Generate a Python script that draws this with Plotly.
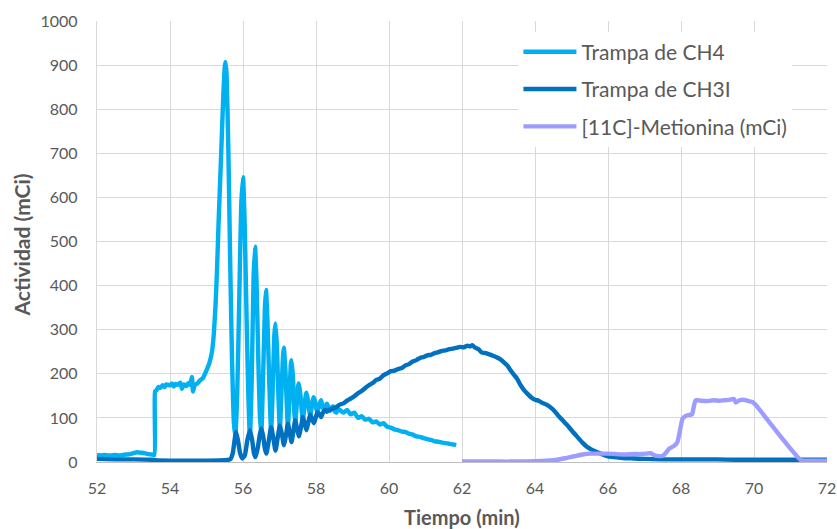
import plotly.graph_objects as go

# ---- data ----
ch4_t = [52.0, 52.1, 52.2, 52.3, 52.4, 52.5, 52.6, 52.7, 52.8, 52.9, 53.0, 53.1, 53.2, 53.3, 53.4, 53.5, 53.57,
         53.59, 53.63, 53.68, 53.73, 53.8, 53.85, 53.9, 54.0, 54.05, 54.1, 54.15, 54.2, 54.28, 54.33, 54.38, 54.45,
         54.5, 54.55, 54.6, 54.63, 54.68, 54.75, 54.82, 54.9, 55.0, 55.08, 55.15, 55.2, 55.25, 55.29, 55.33, 55.38,
         55.42, 55.46, 55.5, 55.52, 55.55, 55.6, 55.65, 55.7, 55.75, 55.79,
         55.84, 55.9, 55.95, 56.0, 56.04, 56.09, 56.14, 56.19,
         56.24, 56.29, 56.33, 56.37, 56.42, 56.46, 56.5,
         56.55, 56.6, 56.63, 56.67, 56.72, 56.77,
         56.82, 56.86, 56.89, 56.93, 56.97, 57.01,
         57.06, 57.1, 57.12, 57.16, 57.2, 57.23,
         57.28, 57.31, 57.33, 57.37, 57.4, 57.43,
         57.48, 57.51, 57.53, 57.57, 57.61, 57.64,
         57.69, 57.72, 57.74, 57.78, 57.81, 57.84,
         57.89, 57.92, 57.94, 57.98, 58.01, 58.04,
         58.09, 58.14, 58.18, 58.22, 58.26, 58.3, 58.35, 58.39, 58.43, 58.47, 58.52, 58.56, 58.6, 58.65,
         58.75, 58.85, 58.95, 59.05, 59.15, 59.25, 59.35, 59.45, 59.55, 59.65, 59.75, 59.85, 59.95,
         60.05, 60.15, 60.25, 60.35, 60.45, 60.55, 60.65, 60.75, 60.85, 60.95, 61.05, 61.15, 61.25,
         61.35, 61.45, 61.55, 61.65, 61.75, 61.84]
ch4_v = [16, 15, 16, 15, 15, 16, 15, 16, 17, 18, 20, 22, 21, 20, 18, 17, 16,
         160, 163, 170, 168, 174, 170, 176, 174, 178, 171, 177, 175, 180, 166, 176, 172,
         179, 175, 193, 160, 175, 178, 185, 190, 208, 225, 250, 290, 360, 440, 540, 650,
         740, 830, 895, 907, 880, 700, 450, 230, 90, 58,
         150, 380, 580, 646, 560, 360, 170, 55,
         190, 420, 488, 410, 230, 110, 60,
         190, 350, 390, 320, 180, 66,
         180, 290, 314, 260, 150, 72,
         170, 245, 259, 210, 130, 78,
         160, 222, 231, 190, 120, 86,
         140, 172, 178, 155, 115, 95,
         130, 152, 157, 140, 118, 104,
         128, 143, 147, 135, 120, 112,
         130, 140, 125, 118, 128, 132, 122, 116, 124, 126, 114, 112, 120, 118,
         112, 118, 108, 112, 100, 104, 96, 98, 90, 92, 85, 88, 80,
         78, 74, 72, 69, 68, 64, 62, 58, 57, 54, 52, 50, 47,
         46, 44, 43, 41, 40, 38]

ch3i_t = [52.0, 52.5, 53.0, 53.5, 53.6, 54.0, 54.5, 55.0, 55.5, 55.65, 55.72, 55.77, 55.81, 55.86, 55.92, 55.98,
          56.05, 56.12, 56.19, 56.25, 56.3, 56.34, 56.4, 56.46, 56.5, 56.55, 56.6, 56.64, 56.7, 56.77, 56.83,
          56.89, 56.95, 57.01, 57.07, 57.12, 57.18, 57.23, 57.28, 57.33, 57.38, 57.43, 57.48, 57.53, 57.59,
          57.64, 57.69, 57.74, 57.79, 57.84, 57.89, 57.94, 57.99, 58.04, 58.1, 58.14, 58.19, 58.25, 58.3,
          58.36, 58.45, 58.55, 58.65, 58.75, 58.85, 58.95,
          59.05, 59.15, 59.25, 59.35, 59.45, 59.55, 59.65, 59.75, 59.85, 59.95, 60.05, 60.15, 60.25, 60.35,
          60.45, 60.55, 60.65, 60.75, 60.85, 60.95, 61.05, 61.15, 61.25, 61.35, 61.45, 61.55, 61.65, 61.75,
          61.85, 61.95, 62.05, 62.15, 62.22, 62.28, 62.35, 62.45, 62.55, 62.65, 62.75, 62.85, 62.96, 63.05,
          63.15, 63.24, 63.33, 63.42, 63.51, 63.6, 63.7, 63.79, 63.9, 64.0, 64.1, 64.2, 64.34, 64.45, 64.55,
          64.65, 64.75, 64.89, 65.0, 65.16, 65.3, 65.43, 65.55, 65.71, 65.85, 66.0, 66.17, 66.4, 66.7, 67.0,
          67.5, 68.0, 68.5, 69.0, 69.5, 70.0, 70.5, 71.0, 71.5, 72.0]
ch3i_v = [7, 6, 6, 5, 4, 3, 3, 3, 4, 6, 20, 50, 68, 50, 20, 8,
          15, 50, 72, 50, 20, 11, 30, 62, 76, 60, 30, 19, 45, 79, 55,
          26, 55, 83, 62, 38, 62, 87, 66, 45, 70, 95, 76, 58, 80,
          102, 88, 72, 90, 108, 98, 88, 100, 113, 108, 102, 112, 118, 114,
          118, 121, 124, 130, 133, 139, 144,
          149, 156, 161, 168, 174, 179, 186, 189, 197, 201, 206, 207, 211, 213,
          219, 222, 228, 231, 236, 238, 242, 243, 247, 249, 252, 253, 256, 257,
          259, 261, 260, 264, 262, 265, 260, 256, 248, 247, 244, 241, 237, 233,
          226, 219, 208, 198, 189, 175, 163, 155, 146, 141, 139, 134, 129, 122, 114,
          104, 95, 83, 72, 57, 44, 34, 28, 22, 17, 13, 11, 9, 8, 7,
          6, 6, 6, 6, 5, 5, 5, 5, 5, 5]

met_t = [62.0, 62.5, 63.0, 63.5, 64.0, 64.3, 64.61, 64.85, 65.07, 65.3, 65.53, 65.75, 65.99, 66.2, 66.45, 66.7,
         66.9, 67.05, 67.17, 67.25, 67.35, 67.5, 67.6, 67.67, 67.8, 67.9, 67.98, 68.04, 68.12, 68.18, 68.3, 68.35,
         68.4, 68.55, 68.72, 68.9, 69.05, 69.18, 69.3, 69.45, 69.5, 69.6, 69.73, 69.85, 69.96, 70.05, 71.29,
         71.5, 72.0]
met_v = [1, 1, 1, 1, 2, 3, 5, 9, 13, 17, 19, 19, 19, 18, 17, 18,
         18, 19, 20, 16, 14, 14, 22, 30, 36, 45, 75, 98, 104, 106, 108, 125,
         140, 139, 138, 140, 139, 140, 141, 143, 135, 140, 141, 138, 136, 129, 4,
         3, 3]

series_names = ["Trampa de CH4", "Trampa de CH3I", "[11C]-Metionina (mCi)"]
series_colors = ["#00B0F0", "#0070C0", "#9D9DFF"]
x_ticks = [52, 54, 56, 58, 60, 62, 64, 66, 68, 70, 72]
y_ticks = [0, 100, 200, 300, 400, 500, 600, 700, 800, 900, 1000]
x_title = "Tiempo (min)"
y_title = "Actividad (mCi)"

FONT = "Lato"
GREY = "#595959"

fig = go.Figure()
for name, tt, vv, col in zip(series_names, [ch4_t, ch3i_t, met_t], [ch4_v, ch3i_v, met_v], series_colors):
    fig.add_trace(go.Scatter(x=tt, y=vv, mode="lines", name=name, legendgroup=name,
                             line=dict(color=col, width=4.4, shape="spline", smoothing=0.5)))

fig.update_layout(
    width=837, height=529,
    margin=dict(l=97, r=10, t=21, b=67, autoexpand=False),
    paper_bgcolor="white", plot_bgcolor="white",
    font=dict(family=FONT, color=GREY, size=16),
    legend=dict(x=0.5773, y=0.976, xanchor="left", yanchor="top",
                bgcolor="white", font=dict(size=21, color=GREY, family=FONT),
                traceorder="grouped", tracegroupgap=7, itemwidth=53),
    showlegend=True,
    annotations=[
        dict(text="<b>" + x_title + "</b>", xref="paper", yref="paper", x=0.5, y=0,
             xanchor="center", yanchor="middle", yshift=-55, showarrow=False,
             font=dict(size=20, color=GREY, family=FONT)),
        dict(text="<b>" + y_title + "</b>", xref="paper", yref="paper", x=0, y=0.491,
             xanchor="center", yanchor="middle", xshift=-76, textangle=-90, showarrow=False,
             font=dict(size=21, color=GREY, family=FONT)),
    ],
)
fig.update_xaxes(range=[52, 72], tickvals=x_ticks, ticktext=[str(v) for v in x_ticks],
                 showgrid=True, gridcolor="#D9D9D9", gridwidth=1.3, automargin=False,
                 showline=True, linecolor="#BFBFBF", linewidth=1.3, zeroline=False,
                 ticks="", ticklabelstandoff=12,
                 tickfont=dict(size=16, color=GREY, family=FONT))
fig.update_yaxes(range=[0, 1000], tickvals=y_ticks, ticktext=[str(v) for v in y_ticks],
                 showgrid=True, gridcolor="#D9D9D9", gridwidth=1.3, automargin=False,
                 showline=True, linecolor="#D9D9D9", linewidth=1.3, zeroline=False,
                 ticks="", ticklabelstandoff=15,
                 tickfont=dict(size=16, color=GREY, family=FONT))

# remove the browser's default 8px body margin so the 837x529 figure fills the window exactly
fig.write_html("out.html",
               config={"displayModeBar": False},
               post_script="document.body.style.margin='0';document.body.style.overflow='hidden';")
